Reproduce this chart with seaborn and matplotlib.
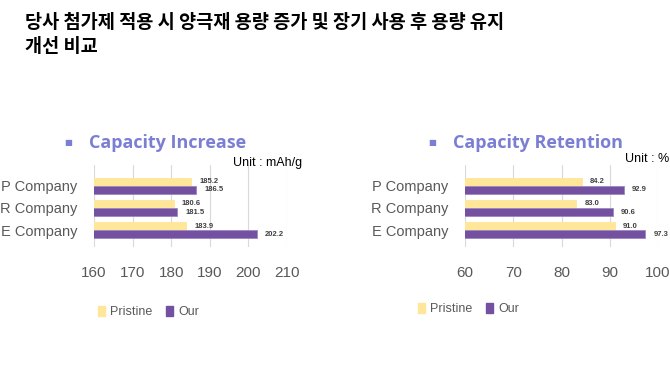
import pandas as pd
import matplotlib
matplotlib.use("Agg")
import matplotlib.pyplot as plt
import matplotlib.patches as mpatches
import seaborn as sns

companies = ["P Company", "R Company", "E Company"]
series = ["Pristine", "Our"]
increase_pristine = [185.2, 180.6, 183.9]
increase_our = [186.5, 181.5, 202.2]
retention_pristine = [84.2, 83.0, 91.0]
retention_our = [92.9, 90.6, 97.3]
increase_ticks = [160, 170, 180, 190, 200, 210]
retention_ticks = [60, 70, 80, 90, 100]

title_kr = "당사 첨가제 적용 시 양극재 용량 증가 및 장기 사용 후 용량 유지\n개선 비교"

#Build long tables for seaborn
def make_df(pristine, our):
    return pd.DataFrame({
        "Company": companies * 2,
        "Series": [series[0]] * 3 + [series[1]] * 3,
        "Value": pristine + our,
    })

df_inc = make_df(increase_pristine, increase_our)
df_ret = make_df(retention_pristine, retention_our)

sns.set_theme(style="white")
plt.rcParams["font.family"] = ["Liberation Sans", "Noto Sans CJK KR", "DejaVu Sans"]

pal = {"Pristine": "#FFE699", "Our": "#7451A0"}
gray = "#595959"
title_col = "#7B7FD3"

fig = plt.figure(figsize=(6.7, 3.85), dpi=100)

fig.text(25 / 670, 1 - 13 / 385, title_kr, ha="left", va="top", fontsize=13.4,
         fontweight="heavy", family=["Noto Sans CJK KR", "DejaVu Sans"],
         linespacing=1.36, color="black")

ax1 = fig.add_axes([94 / 670, 1 - 247 / 385, 193 / 670, 82 / 385])
ax2 = fig.add_axes([465 / 670, 1 - 247 / 385, 193 / 670, 82 / 385])


def draw(ax, df, ticks, unit, unit_x, unit_y, title, title_x, bullet_x, leg_x, leg_y):
    sns.barplot(data=df, y="Company", x="Value", hue="Series", palette=pal,
                order=companies, hue_order=series, orient="h", width=0.73,
                ax=ax, legend=False, saturation=1, edgecolor="#9C86C2", linewidth=0.6)
    for bar in ax.containers[0]:
        bar.set_edgecolor("#FFE699")
    ax.set_xlim(ticks[0], ticks[-1])
    ax.set_ylim(2.77, -0.95)
    ax.set_xticks(ticks)
    ax.set_xlabel("")
    ax.set_ylabel("")
    ax.grid(axis="x", color="#D9D9D9", linewidth=0.8)
    ax.set_axisbelow(True)
    for s in ax.spines.values():
        s.set_visible(False)
    ax.tick_params(axis="x", labelsize=11, colors=gray, pad=14, length=0)
    ax.tick_params(axis="y", labelsize=10.5, colors=gray, pad=12, length=0)
    for c in ax.containers:
        ax.bar_label(c, fmt="%.1f", padding=6, fontsize=5.5, fontweight="bold",
                     color="#404040")
    fig.text(unit_x / 670, 1 - unit_y / 385, unit, ha="right", va="center",
             fontsize=9, color="black")
    fig.text(title_x / 670, 1 - 143 / 385, title, ha="left", va="center",
             fontsize=13, fontweight="bold", color=title_col, family="Open Sans")
    fig.text(bullet_x / 670, 1 - 142 / 385, "■", ha="center", va="center",
             fontsize=6, color=title_col, family="DejaVu Sans")
    handles = [mpatches.Patch(color=pal[s], label=s) for s in series]
    fig.legend(handles=handles, loc="center left",
               bbox_to_anchor=(leg_x / 670, 1 - leg_y / 385), ncol=2, frameon=False,
               fontsize=9, handlelength=0.55, handleheight=0.9, handletextpad=0.4,
               columnspacing=1.1, labelcolor=gray)


draw(ax1, df_inc, increase_ticks, "Unit : mAh/g", 302, 163, "Capacity Increase", 89, 68, 87, 312)
draw(ax2, df_ret, retention_ticks, "Unit : %", 669, 159, "Capacity Retention", 453, 432, 407, 309)

fig.savefig("out.png", dpi=100)
